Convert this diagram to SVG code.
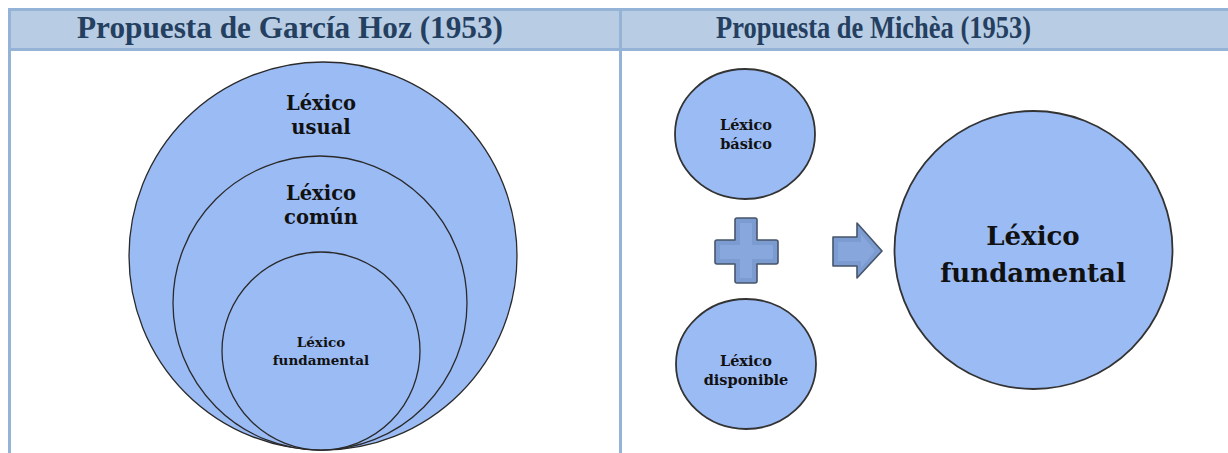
<svg xmlns="http://www.w3.org/2000/svg" width="1228" height="453" viewBox="0 0 1228 453">
  <style>
    .rule { fill: #95b3d7; }
    .head { fill: #b8cce4; }
    .title { font-family: "Liberation Serif", "Times New Roman", serif; font-weight: bold; font-size: 31px; fill: #243f60; }
    .set { fill: #9bbbf5; stroke: #2a2a2a; stroke-width: 1.3; }
    .node { fill: #9bbbf5; stroke: #333; stroke-width: 1.8; }
    .lbl { font-family: "DejaVu Serif", "Liberation Serif", serif; font-weight: bold; fill: #111; text-anchor: middle; }
    .sym { fill: #7b9bd1; stroke: #46556b; stroke-width: 1.6; stroke-linejoin: round; }
    .bevel { fill: #8eaee3; }
  </style>

  <!-- table frame and header row -->
  <g id="table">
    <rect class="rule" x="8" y="8" width="1220" height="43"/>
    <rect class="head" x="11" y="11" width="608" height="37"/>
    <rect class="head" x="622" y="11" width="606" height="37"/>
    <rect class="rule" x="8" y="51" width="3" height="402"/>
    <rect class="rule" x="619" y="51" width="3" height="402"/>
    <text class="title" x="77" y="38" textLength="426" lengthAdjust="spacingAndGlyphs">Propuesta de García Hoz (1953)</text>
    <text class="title" x="716" y="38" textLength="315" lengthAdjust="spacingAndGlyphs">Propuesta de Michèa (1953)</text>
  </g>

  <!-- nested sets, all touching at the bottom -->
  <g id="lexico-usual">
    <circle class="set" cx="323" cy="256" r="194"/>
    <text class="lbl" x="321" y="110" font-size="19.5">Léxico</text>
    <text class="lbl" x="321" y="134" font-size="19.5">usual</text>
  </g>
  <g id="lexico-comun">
    <circle class="set" cx="320" cy="303" r="147"/>
    <text class="lbl" x="321" y="200" font-size="19.5">Léxico</text>
    <text class="lbl" x="321" y="224" font-size="19.5">común</text>
  </g>
  <g id="lexico-fundamental-set">
    <circle class="set" cx="321" cy="351" r="99"/>
    <text class="lbl" x="321" y="347" font-size="13.5">Léxico</text>
    <text class="lbl" x="321" y="365" font-size="13.5">fundamental</text>
  </g>

  <!-- sum of the two lexicons -->
  <g id="lexico-basico">
    <ellipse class="node" cx="745" cy="134" rx="70" ry="65"/>
    <text class="lbl" x="746" y="130" font-size="14.5">Léxico</text>
    <text class="lbl" x="746" y="149" font-size="14.5">básico</text>
  </g>
  <g id="lexico-disponible">
    <ellipse class="node" cx="746" cy="364" rx="70" ry="65"/>
    <text class="lbl" x="746" y="366" font-size="14.5">Léxico</text>
    <text class="lbl" x="746" y="385" font-size="14.5">disponible</text>
  </g>
  <g id="lexico-fundamental">
    <circle class="node" cx="1033.5" cy="250" r="139"/>
    <text class="lbl" x="1033" y="245" font-size="26">Léxico</text>
    <text class="lbl" x="1033" y="282" font-size="26">fundamental</text>
  </g>

  <!-- plus sign and arrow between the nodes -->
  <g id="connectors">
    <g id="plus">
      <path class="sym" d="M735 220 Q735 218 737 218 L755 218 Q757 218 757 220 L757 240 L776 240 Q778 240 778 242 L778 262 Q778 264 776 264 L757 264 L757 281 Q757 283 755 283 L737 283 Q735 283 735 281 L735 264 L717 264 Q715 264 715 262 L715 242 Q715 240 717 240 L735 240 Z"/>
      <path class="bevel" d="M740 223 L752 223 L752 245 L773 245 L773 259 L752 259 L752 278 L740 278 L740 259 L720 259 L720 245 L740 245 Z" opacity="0.7"/>
    </g>
    <g id="arrow">
      <path class="sym" d="M833 237 L857 237 L857 223 L882 251 L857 278 L857 266 L833 266 Z"/>
      <path class="bevel" d="M838 242 L861 242 L861 234 L875 251 L861 268 L861 261 L838 261 Z" opacity="0.6"/>
    </g>
  </g>
</svg>
